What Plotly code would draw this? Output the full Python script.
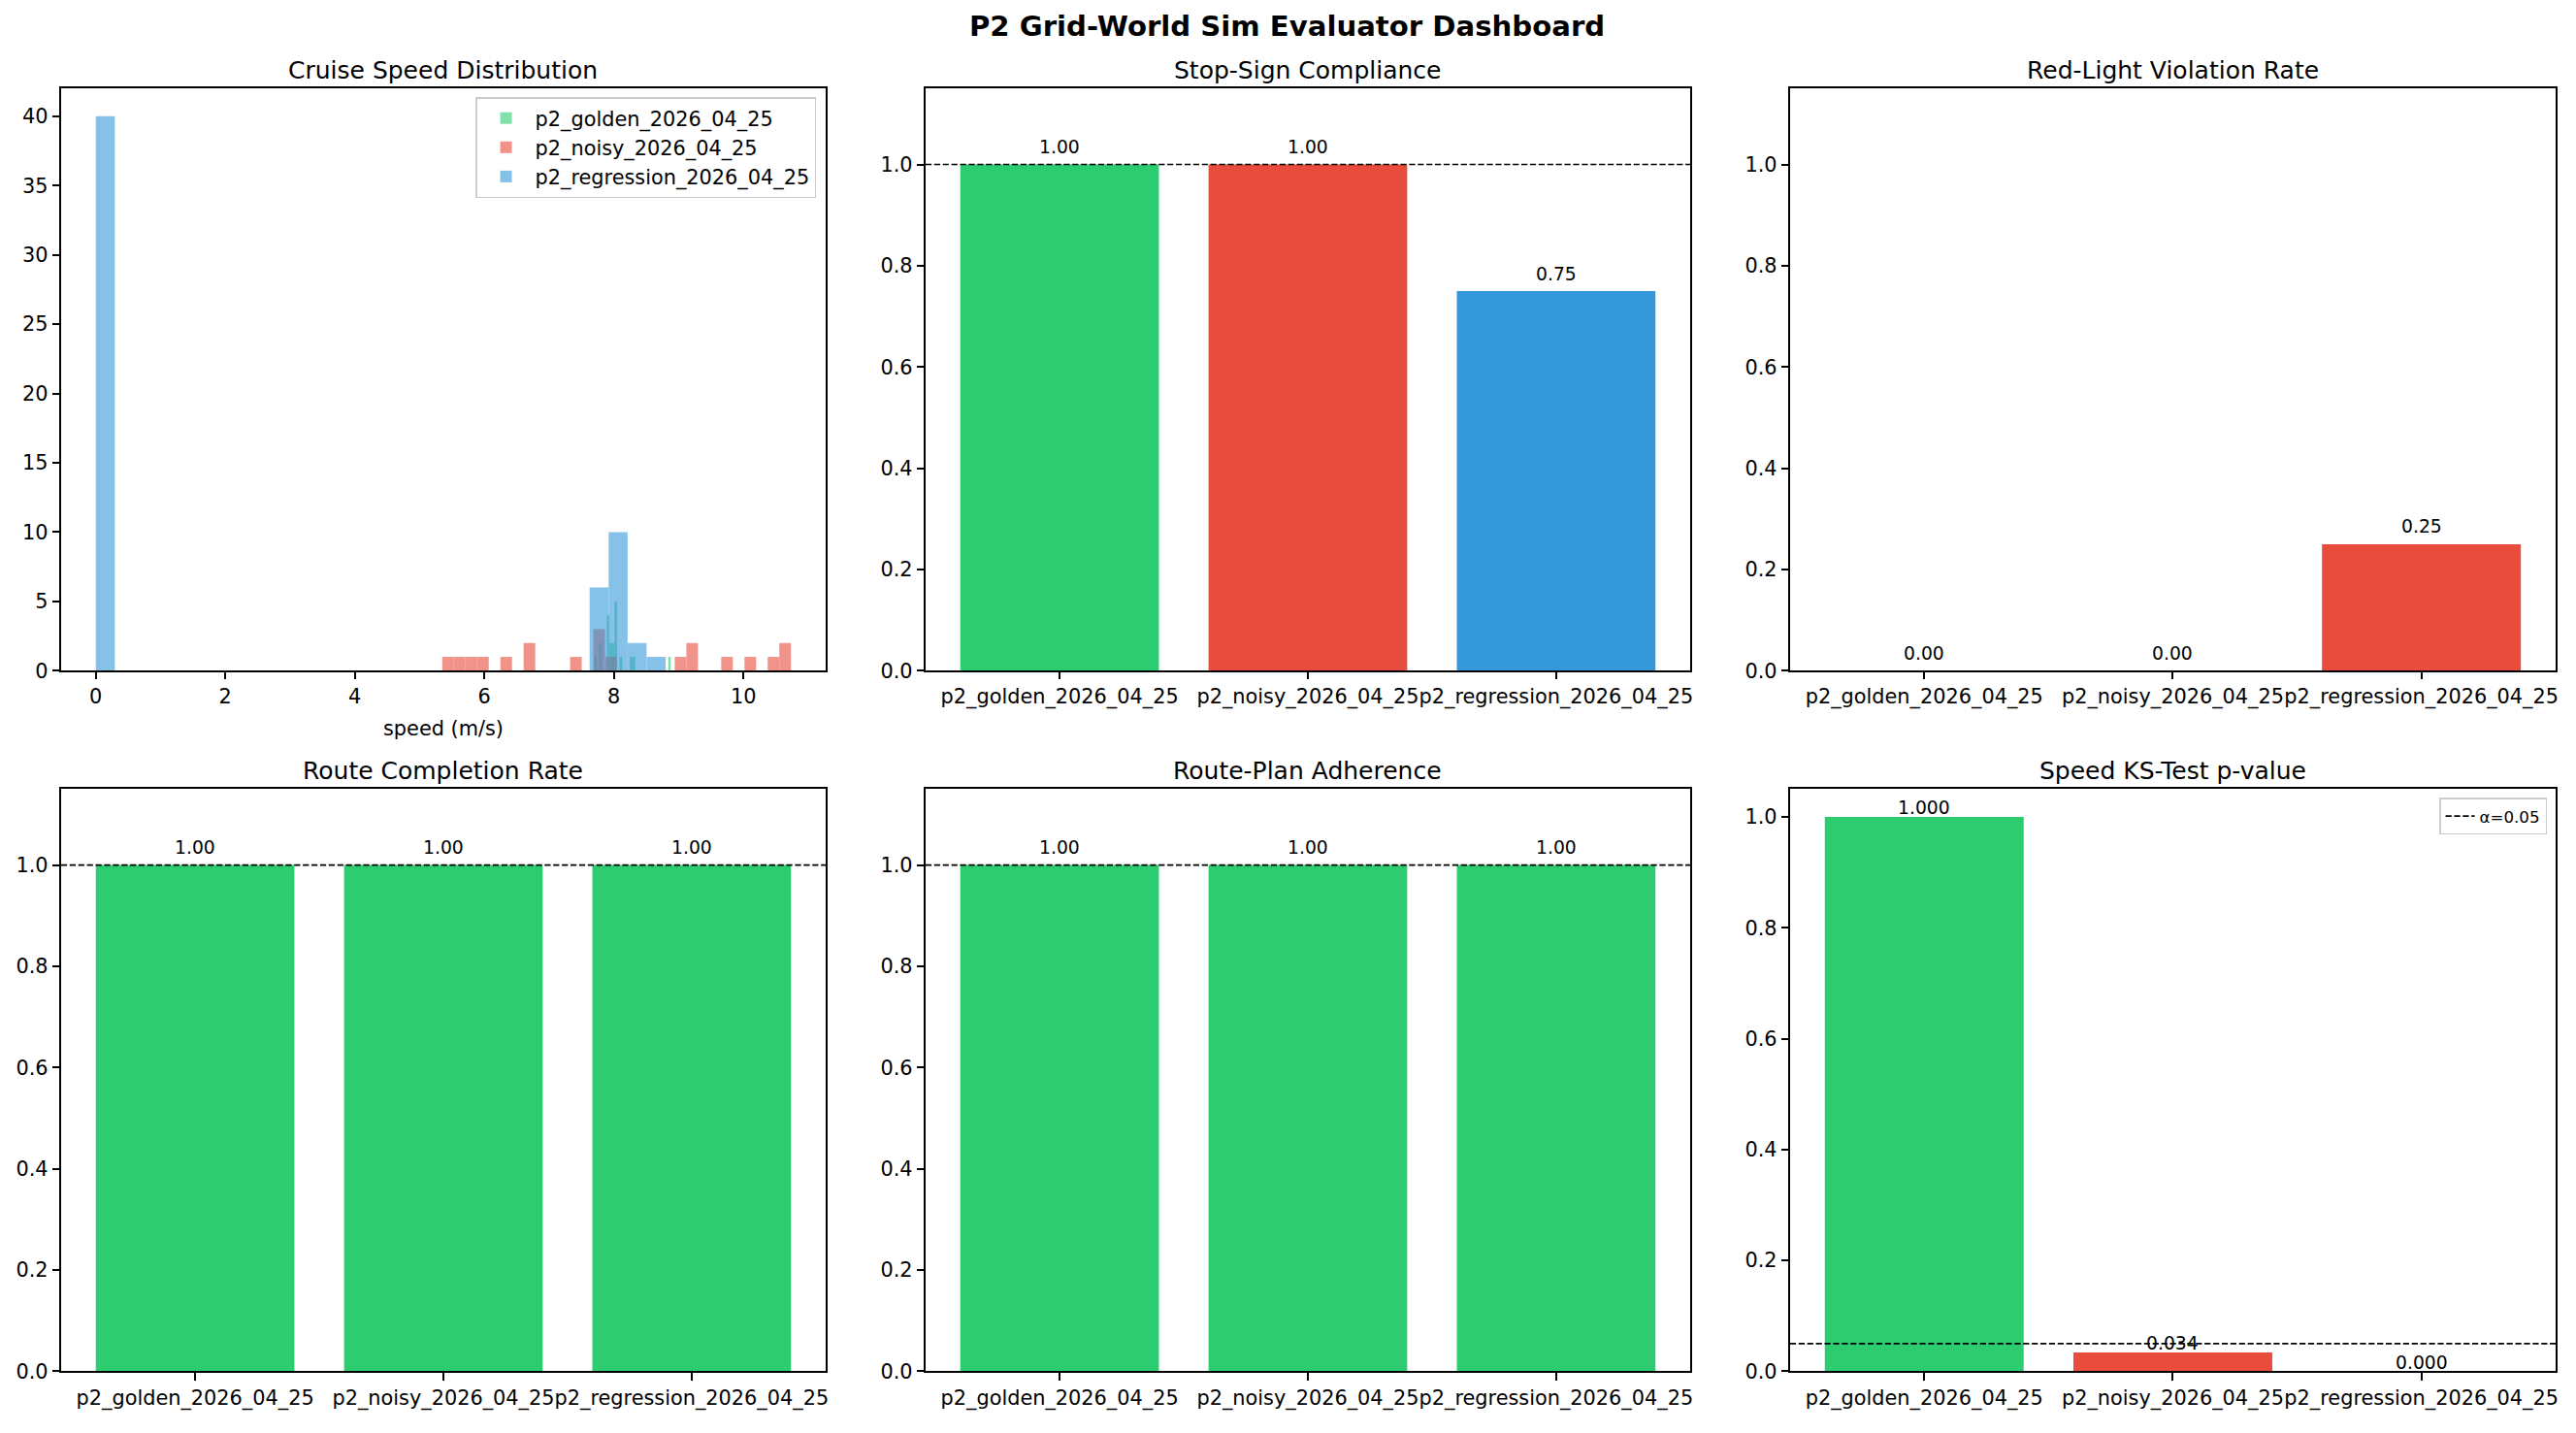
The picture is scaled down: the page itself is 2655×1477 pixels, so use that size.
import plotly.graph_objects as go

W, H = 2655, 1477
PT = 150 / 72.0  # px per point

GREEN = "#2ecc71"
RED = "#e74c3c"
BLUE = "#3498db"

# ---------------- data ----------------
categories = ["p2_golden_2026_04_25", "p2_noisy_2026_04_25", "p2_regression_2026_04_25"]

# Cruise speed histogram (30 bins per series)
golden_bin_start = 7.695
golden_bin_width = 0.0395
golden_counts = [1, 0, 2, 0, 0, 4, 2, 2, 5, 0, 1, 0, 0, 0, 1, 1, 0, 0, 0, 0,
                 0, 0, 0, 0, 0, 0, 0, 0, 0, 1]

noisy_bin_start = 5.35
noisy_bin_width = 0.1795
noisy_counts = [1, 1, 1, 1, 0, 1, 0, 2, 0, 0, 0, 1, 0, 3, 1, 0, 0, 0, 0, 0,
                1, 2, 0, 0, 1, 0, 1, 0, 1, 2]

regression_bin_start = 0.0
regression_bin_width = 0.2933
regression_counts = [40, 0, 0, 0, 0, 0, 0, 0, 0, 0, 0, 0, 0, 0, 0, 0, 0, 0, 0, 0,
                     0, 0, 0, 0, 0, 0, 6, 10, 2, 1]

hist_ticks = [0, 2, 4, 6, 8, 10]
hist_yticks = [0, 5, 10, 15, 20, 25, 30, 35, 40]

stop_sign_values = [1.0, 1.0, 0.75]
stop_sign_colors = [GREEN, RED, BLUE]

red_light_values = [0.0, 0.0, 0.25]
red_light_colors = [GREEN, GREEN, RED]

route_completion_values = [1.0, 1.0, 1.0]
route_completion_colors = [GREEN, GREEN, GREEN]

route_plan_values = [1.0, 1.0, 1.0]
route_plan_colors = [GREEN, GREEN, GREEN]

ks_pvalues = [1.0, 0.034, 0.0]
ks_colors = [GREEN, RED, RED]
ks_alpha = 0.05

bar_yticks = [0.0, 0.2, 0.4, 0.6, 0.8, 1.0]

# ---------------- layout geometry ----------------
col_px = [(63, 852), (955, 1744), (1847, 2637)]
row_px = [(92, 697), (820, 1425)]


def xdom(c):
    return [col_px[c][0] / W, col_px[c][1] / W]


def ydom(r):
    return [1 - row_px[r][1] / H, 1 - row_px[r][0] / H]


FONT = "DejaVu Sans"
tickfont = dict(family=FONT, size=10 * PT, color="black")
axis_common = dict(
    showline=True, linecolor="black", linewidth=0.8 * PT, mirror=True,
    ticks="outside", ticklen=3.5 * PT, tickwidth=0.8 * PT, tickcolor="black",
    showgrid=False, zeroline=False, tickfont=tickfont, tickangle=0,
)

fig = go.Figure()
annotations = []
layout_axes = {}

panels = [
    # (row, col, title)
    (0, 0, "Cruise Speed Distribution"),
    (0, 1, "Stop-Sign Compliance"),
    (0, 2, "Red-Light Violation Rate"),
    (1, 0, "Route Completion Rate"),
    (1, 1, "Route-Plan Adherence"),
    (1, 2, "Speed KS-Test p-value"),
]

for i, (r, c, title) in enumerate(panels):
    n = i + 1
    xa = "xaxis" if n == 1 else f"xaxis{n}"
    ya = "yaxis" if n == 1 else f"yaxis{n}"
    layout_axes[xa] = dict(axis_common, domain=xdom(c), anchor=f"y{'' if n == 1 else n}")
    layout_axes[ya] = dict(axis_common, domain=ydom(r), anchor=f"x{'' if n == 1 else n}")
    d = xdom(c)
    annotations.append(dict(
        x=(d[0] + d[1]) / 2, y=ydom(r)[1], xref="paper", yref="paper",
        text=title, showarrow=False, xanchor="center", yanchor="bottom",
        yshift=2, font=dict(family=FONT, size=12 * PT, color="black"),
    ))

# ---------------- histogram ----------------
hist_series = [
    (categories[0], golden_bin_start, golden_bin_width, golden_counts, GREEN),
    (categories[1], noisy_bin_start, noisy_bin_width, noisy_counts, RED),
    (categories[2], regression_bin_start, regression_bin_width, regression_counts, BLUE),
]
hist_min = min(s[1] for s in hist_series)
hist_max = max(s[1] + s[2] * len(s[3]) for s in hist_series)
for name, start, width, counts, color in hist_series:
    xs = [start + (k + 0.5) * width for k in range(len(counts))]
    fig.add_trace(go.Bar(
        x=xs, y=counts, width=width, name=name, opacity=0.6,
        marker=dict(color=color, line=dict(width=0)),
        xaxis="x", yaxis="y", legend="legend",
    ))
span = hist_max - hist_min
layout_axes["xaxis"].update(
    range=[hist_min - 0.05 * span, hist_max + 0.05 * span],
    tickvals=hist_ticks,
    title=dict(text="speed (m/s)", font=dict(family=FONT, size=10 * PT, color="black"), standoff=14),
)
layout_axes["yaxis"].update(range=[0, 42], tickvals=hist_yticks)

# ---------------- bar panels ----------------
bar_panels = [
    (2, stop_sign_values, stop_sign_colors, 1.0, "{:.2f}", 0.02, 1.15),
    (3, red_light_values, red_light_colors, None, "{:.2f}", 0.02, 1.15),
    (4, route_completion_values, route_completion_colors, 1.0, "{:.2f}", 0.02, 1.15),
    (5, route_plan_values, route_plan_colors, 1.0, "{:.2f}", 0.02, 1.15),
    (6, ks_pvalues, ks_colors, ks_alpha, "{:.3f}", 0.003, 1.05),
]
xpos = list(range(len(categories)))
xr = [-0.54, len(categories) - 1 + 0.54]
for n, vals, cols, ref, fmt, off, ytop in bar_panels:
    fig.add_trace(go.Bar(
        x=xpos, y=vals, width=0.8, marker=dict(color=cols, line=dict(width=0)),
        xaxis=f"x{n}", yaxis=f"y{n}", showlegend=False,
    ))
    if ref is not None:
        is_ks = (n == 6)
        fig.add_trace(go.Scatter(
            x=xr, y=[ref, ref], mode="lines",
            line=dict(color="black", width=0.8 * PT, dash="6.2px,2.7px"),
            xaxis=f"x{n}", yaxis=f"y{n}",
            name=f"α={ks_alpha}" if is_ks else "ref",
            showlegend=is_ks, legend="legend2",
        ))
    for xi, v in zip(xpos, vals):
        annotations.append(dict(
            x=xi, y=v + off, xref=f"x{n}", yref=f"y{n}", text=fmt.format(v),
            showarrow=False, xanchor="center", yanchor="bottom", yshift=-5,
            font=dict(family=FONT, size=9 * PT, color="black"),
        ))
    layout_axes[f"xaxis{n}"].update(range=xr, tickvals=xpos, ticktext=categories)
    layout_axes[f"yaxis{n}"].update(range=[0, ytop], tickvals=bar_yticks,
                                    ticktext=[f"{t:.1f}" for t in bar_yticks])

# ---------------- suptitle ----------------
annotations.append(dict(
    x=0.5, y=1 - 27 / H, xref="paper", yref="paper",
    text="<b>P2 Grid-World Sim Evaluator Dashboard</b>", showarrow=False,
    xanchor="center", yanchor="middle",
    font=dict(family=FONT, size=14 * PT, color="black"),
))

fig.update_layout(
    width=W, height=H, margin=dict(l=0, r=0, t=0, b=0),
    plot_bgcolor="white", paper_bgcolor="white", barmode="overlay",
    font=dict(family=FONT, color="black"),
    annotations=annotations,
    showlegend=True,
    legend=dict(
        x=xdom(0)[1] - 10 / W, y=ydom(0)[1] - 9 / H, xanchor="right", yanchor="top",
        xref="paper", yref="paper",
        bgcolor="rgba(255,255,255,0.8)", bordercolor="#cccccc", borderwidth=1.5,
        font=dict(family=FONT, size=10 * PT, color="black"),
        traceorder="normal", itemwidth=50,
    ),
    legend2=dict(
        x=xdom(2)[1] - 9 / W, y=ydom(1)[1] - 9 / H, xanchor="right", yanchor="top",
        xref="paper", yref="paper",
        bgcolor="rgba(255,255,255,0.8)", bordercolor="#cccccc", borderwidth=1.5,
        font=dict(family=FONT, size=8 * PT, color="black"),
        itemwidth=30,
    ),
    **layout_axes,
)

fig.write_html("out.html", config={"displayModeBar": False},
               post_script="document.body.style.margin='0';")
